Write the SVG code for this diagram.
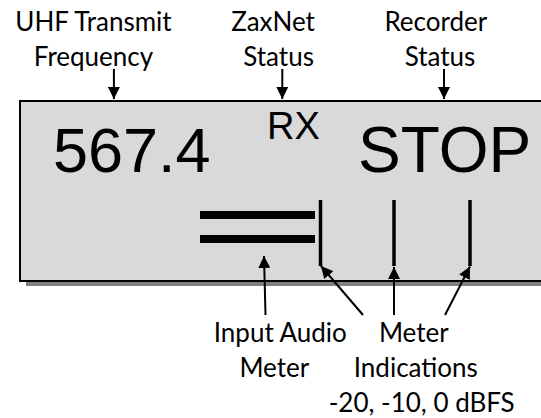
<svg xmlns="http://www.w3.org/2000/svg" width="541" height="418" viewBox="0 0 541 418">
<defs>
<marker id="ah" markerWidth="13" markerHeight="12" refX="12" refY="6" orient="auto" markerUnits="userSpaceOnUse">
<path d="M0,0 L12,6 L0,12 Z" fill="#000"/>
</marker>
<style>
.lbl{font-family:"Lato","Liberation Sans",sans-serif;font-size:26px;fill:#000;text-anchor:middle}
.big{font-family:"Liberation Sans",Arial,sans-serif;fill:#000}
.conn{stroke:#000;stroke-width:2;fill:none;marker-end:url(#ah)}
.ind{stroke:#000;stroke-width:3.5}
</style>
</defs>
<rect width="541" height="418" fill="#fff"/>
<g id="display">
<rect x="26" y="106" width="530" height="180" fill="#808080"/>
<rect x="20" y="101" width="540" height="180" fill="#d9d9d9" stroke="#000" stroke-width="2"/>
<text class="big" x="53" y="172" font-size="63">567.4</text>
<text class="big" x="267" y="139" font-size="38">RX</text>
<text class="big" x="358" y="172" font-size="64">STOP</text>
</g>
<g id="meter">
<rect x="200" y="211" width="115" height="8" fill="#000"/>
<rect x="200" y="235" width="115" height="8" fill="#000"/>
<line class="ind" x1="320.5" y1="200" x2="320.5" y2="266"/>
<line class="ind" x1="394" y1="200" x2="394" y2="266"/>
<line class="ind" x1="470" y1="200" x2="470" y2="266"/>
</g>
<g id="label-uhf">
<text class="lbl" x="93.5" y="30.5">UHF Transmit</text>
<text class="lbl" x="93.5" y="65.5">Frequency</text>
</g>
<g id="label-zaxnet">
<text class="lbl" x="273" y="30.5">ZaxNet</text>
<text class="lbl" x="278.6" y="65.5">Status</text>
</g>
<g id="label-recorder">
<text class="lbl" x="435.8" y="30.5">Recorder</text>
<text class="lbl" x="440" y="65.5">Status</text>
</g>
<g id="label-input">
<text class="lbl" x="280.3" y="341.7">Input Audio</text>
<text class="lbl" x="274.3" y="376.7">Meter</text>
</g>
<g id="label-indications">
<text class="lbl" x="413.8" y="341.7">Meter</text>
<text class="lbl" x="415.8" y="376.7">Indications</text>
<text class="lbl" x="421.7" y="412">-20, -10, 0 dBFS</text>
</g>
<g id="connectors">
<line class="conn" x1="113.9" y1="69" x2="113.9" y2="99"/>
<line class="conn" x1="282.3" y1="69" x2="282.3" y2="99"/>
<line class="conn" x1="444" y1="69" x2="444" y2="99"/>
<line class="conn" x1="265.5" y1="315" x2="264" y2="256"/>
<line class="conn" x1="363" y1="315" x2="321" y2="266"/>
<line class="conn" x1="394" y1="315" x2="394" y2="267"/>
<line class="conn" x1="445" y1="315" x2="470" y2="266.5"/>
</g>
</svg>
